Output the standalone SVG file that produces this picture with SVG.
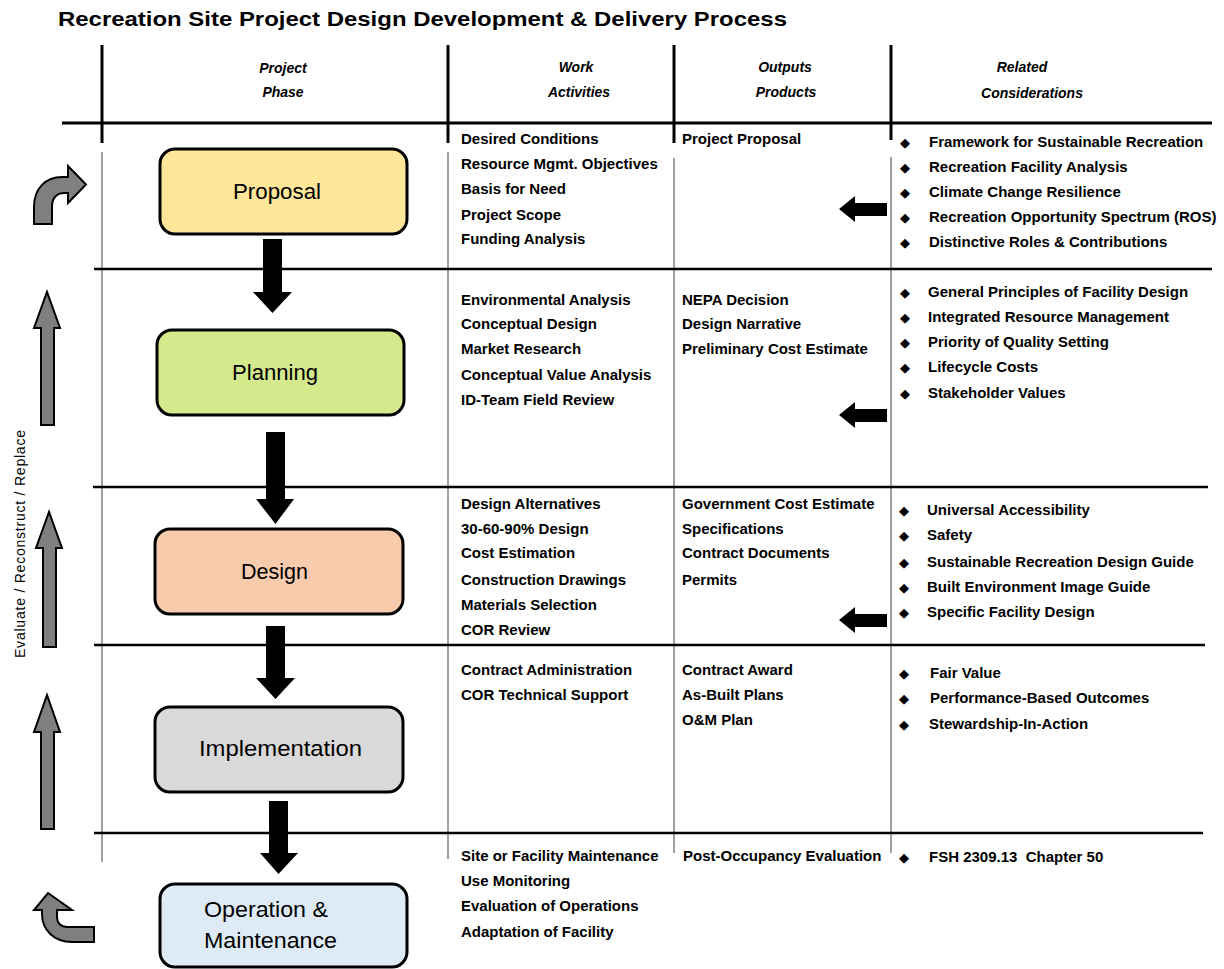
<svg xmlns="http://www.w3.org/2000/svg" width="1224" height="969" viewBox="0 0 1224 969">
<style>
.title{font-family:"Liberation Sans",Arial,sans-serif;font-weight:bold;font-size:20.5px;fill:#000}
.h{font-family:"Liberation Sans",Arial,sans-serif;font-weight:bold;font-style:italic;font-size:14px;text-anchor:middle;fill:#000}
.t{font-family:"Liberation Sans",Arial,sans-serif;font-weight:bold;font-size:15px;fill:#000}
.lbl{font-family:"Liberation Sans",Arial,sans-serif;font-size:22px;fill:#000}
.bul{font-family:"DejaVu Sans",sans-serif;font-size:13px;text-anchor:middle;fill:#000}
.vt{font-family:"Liberation Sans",Arial,sans-serif;font-size:14px;fill:#000;text-anchor:middle}
.thick{stroke:#000;stroke-width:3;fill:none}
.row{stroke:#000;stroke-width:2.5;fill:none}
.thin{stroke:#808080;stroke-width:1.5;fill:none}
.box{stroke:#000;stroke-width:3}
.blk{fill:#000}
.gray{fill:#7f7f7f;stroke:#000;stroke-width:2;stroke-linejoin:miter}
</style>
<rect width="1224" height="969" fill="#fff"/>
<text class="title" x="58" y="26" textLength="729" lengthAdjust="spacingAndGlyphs">Recreation Site Project Design Development &amp; Delivery Process</text>

<g id="grid">
<line class="thick" x1="102" y1="45" x2="102" y2="143"/>
<line class="thick" x1="448" y1="45" x2="448" y2="143"/>
<line class="thick" x1="674" y1="45" x2="674" y2="143"/>
<line class="thick" x1="891" y1="45" x2="891" y2="140"/>
<line class="thick" x1="62" y1="123" x2="1212" y2="123"/>
<line class="thin" x1="102" y1="152" x2="102" y2="862"/>
<line class="thin" x1="448" y1="152" x2="448" y2="859"/>
<line class="thin" x1="674" y1="158" x2="674" y2="853"/>
<line class="thin" x1="891" y1="157" x2="891" y2="853"/>
<line class="row" x1="94" y1="269" x2="1212" y2="269"/>
<line class="row" x1="93" y1="487" x2="1208" y2="487"/>
<line class="row" x1="94" y1="645" x2="1205" y2="645"/>
<line class="row" x1="94" y1="833" x2="1203" y2="833"/>
</g>

<g id="headers">
<text class="h" x="283" y="73">Project</text>
<text class="h" x="283" y="97">Phase</text>
<text class="h" x="576" y="72">Work</text>
<text class="h" x="579" y="97">Activities</text>
<text class="h" x="785" y="72">Outputs</text>
<text class="h" x="786" y="97">Products</text>
<text class="h" x="1022" y="72">Related</text>
<text class="h" x="1032" y="98">Considerations</text>
</g>

<g id="proposal">
<rect class="box" x="160" y="149" width="247" height="85" rx="15" fill="#FFE699"/>
<text class="lbl" x="233" y="199" textLength="88" lengthAdjust="spacingAndGlyphs">Proposal</text>
</g>
<g id="planning">
<rect class="box" x="157" y="330" width="247" height="85" rx="15" fill="#D4E98B"/>
<text class="lbl" x="232" y="380" textLength="86" lengthAdjust="spacingAndGlyphs">Planning</text>
</g>
<g id="design">
<rect class="box" x="155" y="529" width="248" height="85" rx="15" fill="#F8CBAD"/>
<text class="lbl" x="241" y="579" textLength="67" lengthAdjust="spacingAndGlyphs">Design</text>
</g>
<g id="implementation">
<rect class="box" x="155" y="707" width="248" height="85" rx="15" fill="#D9D9D9"/>
<text class="lbl" x="199" y="756" textLength="163" lengthAdjust="spacingAndGlyphs">Implementation</text>
</g>
<g id="operation">
<rect class="box" x="160" y="884" width="247" height="83" rx="15" fill="#DEEBF7"/>
<text class="lbl" x="204" y="917" textLength="124" lengthAdjust="spacingAndGlyphs">Operation &amp;</text>
<text class="lbl" x="204" y="948" textLength="133" lengthAdjust="spacingAndGlyphs">Maintenance</text>
</g>

<g id="connectors">
<polygon class="blk" points="263,239 282,239 282,292 292,292 272.5,313 253,292 263,292"/>
<polygon class="blk" points="266,432 285,432 285,499 294,499 275.5,524 256,499 266,499"/>
<polygon class="blk" points="266,626 285,626 285,678 295,678 275.5,699 256,678 266,678"/>
<polygon class="blk" points="269,801 288,801 288,853 298,853 278.5,874 260,853 269,853"/>
<polygon class="blk" points="887,203 855,203 855,196 839,209 855,222 855,216 887,216"/>
<polygon class="blk" points="887,409 855,409 855,402 839,415 855,428 855,422 887,422"/>
<polygon class="blk" points="887,614 855,614 855,607 839,620 855,633 855,627 887,627"/>
<polygon class="gray" points="41,425 54,425 54,328 60,328 47,292 34,328 41,328"/>
<polygon class="gray" points="43,647 56,647 56,548 62,548 49,512 36,548 43,548"/>
<polygon class="gray" points="41,829 54,829 54,732 60,732 47,695 34,732 41,732"/>
<path class="gray" d="M34,224 L34,207 C34,188 46,177 62,177 L68,177 L68,166 L86,184.5 L68,203 L68,193 L64,193 C57,193 52,198 52,206 L52,224 Z"/>
<path class="gray" d="M48,893 L72,910 L57,910 L57,917 C57,923 61,927 67,927 L94,927 L94,942 L72,942 C54,942 42,930 42,914 L42,910 L34,910 Z"/>
</g>

<text class="vt" transform="translate(25,544) rotate(-90)" textLength="228" lengthAdjust="spacing">Evaluate / Reconstruct / Replace</text>

<g id="work-activities">
<text class="t" x="461" y="144">Desired Conditions</text>
<text class="t" x="461" y="169">Resource Mgmt. Objectives</text>
<text class="t" x="461" y="194">Basis for Need</text>
<text class="t" x="461" y="220">Project Scope</text>
<text class="t" x="461" y="244">Funding Analysis</text>
<text class="t" x="461" y="305">Environmental Analysis</text>
<text class="t" x="461" y="329">Conceptual Design</text>
<text class="t" x="461" y="354">Market Research</text>
<text class="t" x="461" y="380">Conceptual Value Analysis</text>
<text class="t" x="461" y="405">ID-Team Field Review</text>
<text class="t" x="461" y="509">Design Alternatives</text>
<text class="t" x="461" y="534">30-60-90% Design</text>
<text class="t" x="461" y="558">Cost Estimation</text>
<text class="t" x="461" y="585">Construction Drawings</text>
<text class="t" x="461" y="610">Materials Selection</text>
<text class="t" x="461" y="635">COR Review</text>
<text class="t" x="461" y="675">Contract Administration</text>
<text class="t" x="461" y="700">COR Technical Support</text>
<text class="t" x="461" y="861">Site or Facility Maintenance</text>
<text class="t" x="461" y="886">Use Monitoring</text>
<text class="t" x="461" y="911">Evaluation of Operations</text>
<text class="t" x="461" y="937">Adaptation of Facility</text>
</g>

<g id="outputs">
<text class="t" x="682" y="144">Project Proposal</text>
<text class="t" x="682" y="305">NEPA Decision</text>
<text class="t" x="682" y="329">Design Narrative</text>
<text class="t" x="682" y="354">Preliminary Cost Estimate</text>
<text class="t" x="682" y="509">Government Cost Estimate</text>
<text class="t" x="682" y="534">Specifications</text>
<text class="t" x="682" y="558">Contract Documents</text>
<text class="t" x="682" y="585">Permits</text>
<text class="t" x="682" y="675">Contract Award</text>
<text class="t" x="682" y="700">As-Built Plans</text>
<text class="t" x="682" y="725">O&amp;M Plan</text>
<text class="t" x="683" y="861">Post-Occupancy Evaluation</text>
</g>

<g id="considerations">
<text class="bul" x="905" y="147">◆</text><text class="t" x="929" y="147">Framework for Sustainable Recreation</text>
<text class="bul" x="905" y="172">◆</text><text class="t" x="929" y="172">Recreation Facility Analysis</text>
<text class="bul" x="905" y="197">◆</text><text class="t" x="929" y="197">Climate Change Resilience</text>
<text class="bul" x="905" y="222">◆</text><text class="t" x="929" y="222">Recreation Opportunity Spectrum (ROS)</text>
<text class="bul" x="905" y="247">◆</text><text class="t" x="929" y="247">Distinctive Roles &amp; Contributions</text>
<text class="bul" x="905" y="297">◆</text><text class="t" x="928" y="297">General Principles of Facility Design</text>
<text class="bul" x="905" y="322">◆</text><text class="t" x="928" y="322">Integrated Resource Management</text>
<text class="bul" x="905" y="347">◆</text><text class="t" x="928" y="347">Priority of Quality Setting</text>
<text class="bul" x="905" y="372">◆</text><text class="t" x="928" y="372">Lifecycle Costs</text>
<text class="bul" x="905" y="398">◆</text><text class="t" x="928" y="398">Stakeholder Values</text>
<text class="bul" x="904" y="515">◆</text><text class="t" x="927" y="515">Universal Accessibility</text>
<text class="bul" x="904" y="540">◆</text><text class="t" x="927" y="540">Safety</text>
<text class="bul" x="904" y="567">◆</text><text class="t" x="927" y="567">Sustainable Recreation Design Guide</text>
<text class="bul" x="904" y="592">◆</text><text class="t" x="927" y="592">Built Environment Image Guide</text>
<text class="bul" x="904" y="617">◆</text><text class="t" x="927" y="617">Specific Facility Design</text>
<text class="bul" x="904" y="678">◆</text><text class="t" x="930" y="678">Fair Value</text>
<text class="bul" x="904" y="703">◆</text><text class="t" x="930" y="703">Performance-Based Outcomes</text>
<text class="bul" x="904" y="729">◆</text><text class="t" x="929" y="729">Stewardship-In-Action</text>
<text class="bul" x="904" y="862">◆</text><text class="t" x="929" y="862">FSH 2309.13&#160; Chapter 50</text>
</g>
</svg>
